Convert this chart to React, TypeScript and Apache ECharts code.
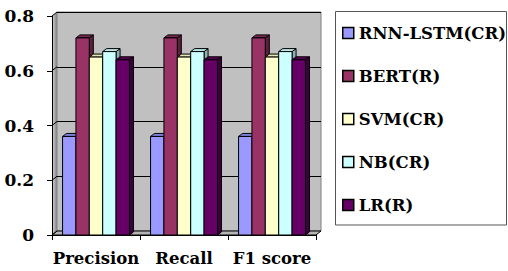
import React, { useEffect, useRef } from "react";
import * as echarts from "echarts";

const categories = ["Precision", "Recall", "F1 score"];
const seriesNames = ["RNN-LSTM(CR)", "BERT(R)", "SVM(CR)", "NB(CR)", "LR(R)"];
const rnnLstm = [0.36, 0.36, 0.36];
const bert = [0.72, 0.72, 0.72];
const svm = [0.65, 0.65, 0.65];
const nb = [0.67, 0.67, 0.67];
const lr = [0.64, 0.64, 0.64];
const yTicks = [0, 0.2, 0.4, 0.6, 0.8];

const seriesValues = [rnnLstm, bert, svm, nb, lr];
const frontColors = ["#9999FF", "#993366", "#FFFFCC", "#CCFFFF", "#660066"];
const topColors = ["#8080E0", "#7A2952", "#E6E6B8", "#B8E6E6", "#520052"];
const sideColors = ["#6666B0", "#5C1F3D", "#B3B38F", "#8FB3B3", "#3D003D"];

// layout
const W = 508;
const H = 271;
const GL = 52;
const GT = 16;
const GW = 264;
const GH = 219;
const WDX = 5;
const WDY = 4;
const BDX = 4;
const BDY = 3;
const BAR_FRAC = 0.152;
const FONT = "'DejaVu Serif', serif";

export default function App() {
  const ref = useRef<HTMLDivElement>(null);
  useEffect(() => {
    document.body.style.margin = "0";
    const chart = echarts.init(ref.current!, null, { renderer: "svg" });

    const renderItem = (params: any, api: any) => {
      const cat = api.value(0);
      const val = api.value(1);
      const top = api.coord([cat, val]);
      const base = api.coord([cat, 0]);
      const catW = api.size([1, 0])[0];
      const bw = catW * BAR_FRAC;
      const i = params.seriesIndex;
      const x0 = top[0] - (seriesNames.length * bw) / 2 + i * bw;
      const x1 = x0 + bw;
      const yT = top[1];
      const yB = base[1];
      const stroke = { stroke: "#000", lineWidth: 1 };
      return {
        type: "group",
        children: [
          {
            type: "polygon",
            shape: {
              points: [
                [x1, yT],
                [x1 + BDX, yT - BDY],
                [x1 + BDX, yB - BDY],
                [x1, yB],
              ],
            },
            style: { fill: sideColors[i], ...stroke },
          },
          {
            type: "polygon",
            shape: {
              points: [
                [x0, yT],
                [x0 + BDX, yT - BDY],
                [x1 + BDX, yT - BDY],
                [x1, yT],
              ],
            },
            style: { fill: topColors[i], ...stroke },
          },
          {
            type: "rect",
            shape: { x: x0, y: yT, width: bw, height: yB - yT },
            style: { fill: frontColors[i], ...stroke },
          },
        ],
      };
    };

    const yMax = yTicks[yTicks.length - 1];
    const graphics: any[] = [];
    graphics.push({
      type: "polygon",
      z: 1,
      shape: {
        points: [
          [GL, GT],
          [GL + WDX, GT - WDY],
          [GL + WDX, GT + GH - WDY],
          [GL, GT + GH],
        ],
      },
      style: {
        fill: new echarts.graphic.LinearGradient(0, 0, 1, 0, [
          { offset: 0, color: "#d8d8d8" },
          { offset: 1, color: "#808080" },
        ]),
      },
    });
    yTicks.forEach((t) => {
      const y = GT + GH - (t / yMax) * GH;
      graphics.push({
        type: "line",
        z: 2,
        shape: { x1: GL, y1: y, x2: GL + WDX, y2: y - WDY },
        style: { stroke: "#000", lineWidth: 1 },
      });
    });
    graphics.push({
      type: "polygon",
      z: 1,
      shape: {
        points: [
          [GL, GT + GH],
          [GL + WDX, GT + GH - WDY],
          [GL + GW + WDX, GT + GH - WDY],
          [GL + GW, GT + GH],
        ],
      },
      style: { fill: "#b4b4b4", stroke: "#000", lineWidth: 1 },
    });
    graphics.push({
      type: "rect",
      z: 1,
      shape: { x: 335.5, y: 11.5, width: 171, height: 213.5 },
      style: { fill: "none", stroke: "#555", lineWidth: 1 },
    });

    const labelStyle = {
      fontFamily: FONT,
      fontWeight: "bold",
      fontSize: 17,
      color: "#000",
    };

    chart.setOption({
      animation: false,
      backgroundColor: "#fff",
      grid: [
        { left: GL, top: GT, width: GW, height: GH, show: false },
        {
          left: GL + WDX,
          top: GT - WDY,
          width: GW,
          height: GH,
          show: true,
          backgroundColor: "#c0c0c0",
          borderColor: "#808080",
          borderWidth: 1,
        },
      ],
      xAxis: [
        {
          type: "category",
          gridIndex: 0,
          data: categories,
          z: 5,
          axisLine: { show: true, lineStyle: { color: "#000", width: 1 } },
          axisTick: { show: true, length: 5, lineStyle: { color: "#000" } },
          axisLabel: { ...labelStyle, fontSize: 16.5, margin: 15, interval: 0 },
          splitLine: { show: false },
        },
        {
          type: "category",
          gridIndex: 1,
          data: categories,
          show: false,
        },
      ],
      yAxis: [
        {
          type: "value",
          gridIndex: 0,
          min: 0,
          max: yMax,
          interval: 0.2,
          z: 5,
          axisLine: { show: true, lineStyle: { color: "#000", width: 1 } },
          axisTick: { show: true, length: 5, lineStyle: { color: "#000" } },
          axisLabel: {
            ...labelStyle,
            margin: 18,
            formatter: (v: number) => (v === 0 ? "0" : v.toFixed(1)),
          },
          splitLine: { show: false },
        },
        {
          type: "value",
          gridIndex: 1,
          min: 0,
          max: yMax,
          interval: 0.2,
          axisLine: { show: false },
          axisTick: { show: false },
          axisLabel: { show: false },
          splitLine: { show: true, lineStyle: { color: "#000", width: 1 } },
        },
      ],
      legend: {
        orient: "vertical",
        left: 342,
        top: 23,
        padding: 0,
        itemWidth: 11,
        itemHeight: 11,
        itemGap: 23,
        icon: "rect",
        data: seriesNames,
        itemStyle: { borderColor: "#000", borderWidth: 1.5 },
        textStyle: { ...labelStyle, fontSize: 16.5, lineHeight: 20 },
      },
      graphic: graphics,
      series: seriesNames.map((name, i) => ({
        name,
        type: "custom",
        xAxisIndex: 0,
        yAxisIndex: 0,
        z: 3,
        itemStyle: { color: frontColors[i] },
        encode: { x: 0, y: 1 },
        renderItem,
        data: seriesValues[i].map((v, c) => [c, v]),
      })),
    });
    return () => chart.dispose();
  }, []);
  return <div ref={ref} style={{ width: W, height: H }} />;
}
